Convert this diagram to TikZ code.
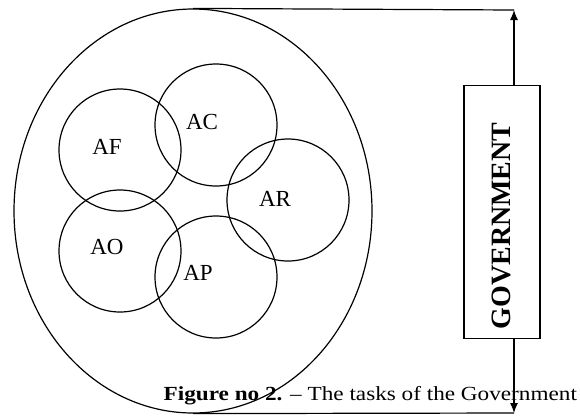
\documentclass[tikz,border=0pt]{standalone}
\usepackage{fontspec}
\setmainfont{Liberation Serif}
\usetikzlibrary{shapes.geometric,arrows.meta}
\begin{document}
\begin{tikzpicture}[x=1pt,y=-1pt,line width=1.2pt,
  task/.style={circle,draw,minimum size=122pt,inner sep=0pt},
  lbl/.style={font=\fontsize{23}{26}\selectfont,inner sep=0pt},
  arr/.style={-{Latex[length=10pt,width=8pt]}}]
\useasboundingbox (0,0) rectangle (580,416);
\fill[white] (0,0) rectangle (580,416);
\node[ellipse,draw,minimum width=358pt,minimum height=404pt,inner sep=0pt] (outer) at (193,211) {};
\node[task] (cf) at (120,150) {};
\node[task] (cc) at (216,125) {};
\node[task] (cr) at (288,200) {};
\node[task] (co) at (120,251) {};
\node[task] (cp) at (216,277) {};
\node[lbl] (af) at (107,147) {AF};
\node[lbl] (ac) at (202,122) {AC};
\node[lbl] (ar) at (275,199) {AR};
\node[lbl] (ao) at (107,247) {AO};
\node[lbl] (ap) at (198,273) {AP};
\node[draw,minimum width=76pt,minimum height=253pt,inner sep=0pt] (gov) at (502,212) {};
\node[rotate=90,font=\bfseries\fontsize{28}{30}\selectfont,inner sep=0pt] (govt) at (501,226) {GOVERNMENT};
\coordinate (ctop) at (514,10);
\coordinate (cbot) at (514,413);
\draw[arr] (gov.north -| ctop) -- (ctop);
\draw (ctop) -- (outer.north);
\draw[arr] (gov.south -| cbot) -- (cbot);
\draw (cbot) -- (outer.south);
\node[anchor=base west,inner sep=0pt,xscale=1.16,font=\fontsize{20}{22}\selectfont] (cap) at (163,400) {\textbf{Figure no 2.} – The tasks of the Government};
\end{tikzpicture}
\end{document}
